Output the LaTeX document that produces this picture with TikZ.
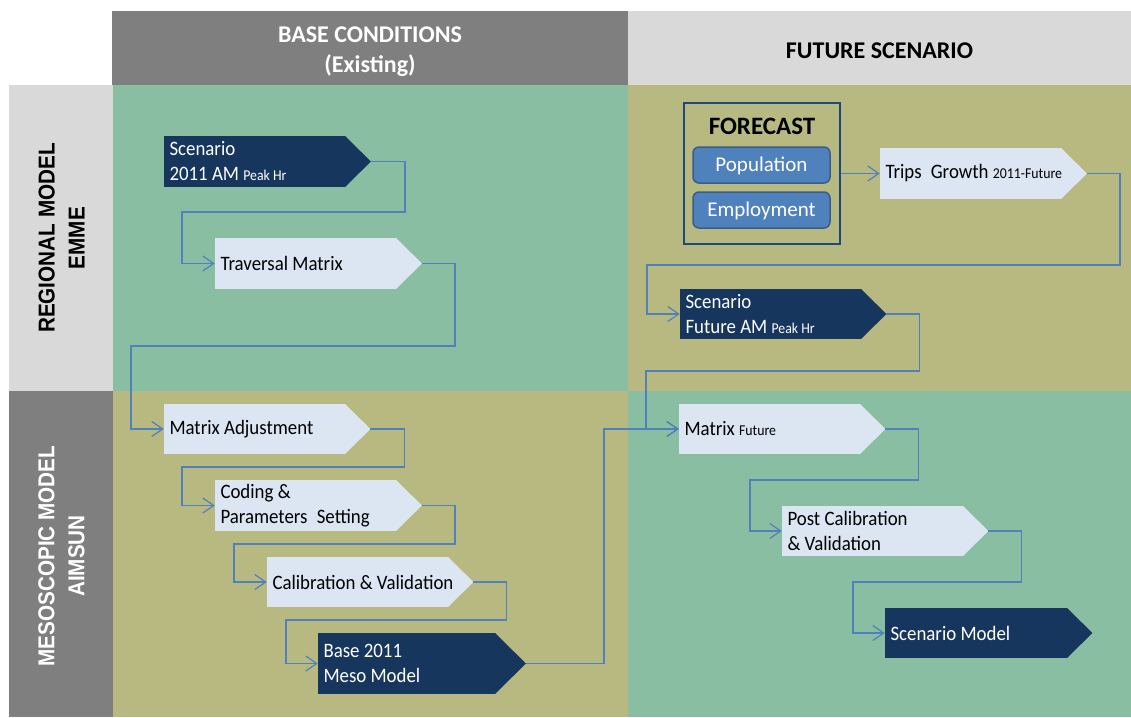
\documentclass[tikz,border=0pt]{standalone}
\usepackage{fontspec}
\setmainfont{Carlito}
\newfontfamily\bandfont{Liberation Sans}[FakeStretch=0.9]
\newfontfamily\stepfont{Carlito}[FakeStretch=0.92]
\usetikzlibrary{arrows.meta,calc}

\pgfdeclarelayer{grid}
\pgfdeclarelayer{tips}
\pgfsetlayers{grid,tips,main}

\definecolor{hdrdark}{HTML}{7F7F7F}
\definecolor{hdrlight}{HTML}{D9D9D9}
\definecolor{cellgreen}{HTML}{89BEA3}
\definecolor{cellolive}{HTML}{B8B980}
\definecolor{navy}{HTML}{17365D}
\definecolor{pale}{HTML}{DCE6F2}
\definecolor{linkblue}{HTML}{4F81BD}
\definecolor{fcborder}{HTML}{1F497D}
\definecolor{pillfill}{HTML}{4F81BD}
\definecolor{pilledge}{HTML}{385D8A}

% small trailing words inside the step boxes
\newcommand\smallpart[1]{{\fontsize{15}{15}\selectfont #1}}
% one unbreakable line of a step box
\newcommand\stepline[1]{\mbox{#1}}

\tikzset{
  cell/.style={rectangle, inner sep=0pt, draw=none},
  hdrtext/.style={font=\bfseries\fontsize{24}{30}\selectfont, align=center},
  bandtext/.style={font=\bandfont\bfseries\fontsize{23}{30}\selectfont, align=center, rotate=90},
  stepbox/.style={rectangle, inner xsep=5.5pt, inner ysep=0pt, minimum height=51pt,
    text width=170pt, align=flush left, font=\stepfont\fontsize{20.5}{25}\selectfont},
  darkstep/.style={stepbox, fill=navy, text=white},
  palestep/.style={stepbox, fill=pale, text=black},
  pill/.style={rectangle, rounded corners=6pt, fill=pillfill, draw=pilledge, line width=1.5pt,
    minimum width=137pt, minimum height=36pt, text height=18pt, text depth=4.5pt,
    text=white, font=\fontsize{21}{21}\selectfont},
  conn/.style={draw=linkblue, line width=1.2pt,
    -{Straight Barb[length=11pt,width=15pt,line width=1.2pt]}}
}

\begin{document}
\begin{tikzpicture}[x=1pt, y=-1pt]
\useasboundingbox (0,0) rectangle (1131,717);

\begin{pgfonlayer}{grid}
\fill[white] (0,0) rectangle (1131,717);
% quadrants
\fill[cellgreen] (113,85) rectangle (628,391);
\fill[cellolive] (628,85) rectangle (1131,391);
\fill[cellolive] (113,391) rectangle (628,717);
\fill[cellgreen] (628,391) rectangle (1131,717);
\end{pgfonlayer}

% column headers
\node[cell, fill=hdrdark, minimum width=516pt, minimum height=74pt] (hbase) at (370,48) {};
\node[cell, fill=hdrlight, minimum width=503pt, minimum height=74pt] (hfut) at (879.5,48) {};
\node[hdrtext, text=white] (hbaset) at (370,52) {BASE CONDITIONS\\(Existing)};
\node[hdrtext, text=black] (hfutt) at (879.5,51) {FUTURE SCENARIO};

% row bands
\node[cell, fill=hdrlight, minimum width=104pt, minimum height=306pt] (bandreg) at (61,238) {};
\node[cell, fill=hdrdark, minimum width=104pt, minimum height=326pt] (bandmeso) at (61,554) {};
\node[bandtext, text=black] (bandregt) at (61.5,238) {REGIONAL MODEL\\EMME};
\node[bandtext, text=white] (bandmesot) at (61.5,556) {MESOSCOPIC MODEL\\AIMSUN};

% base conditions steps
\node[darkstep] (scen) at (254.5,161.5) {\stepline{Scenario}\\\stepline{2011 AM \smallpart{Peak Hr}}};
\node[palestep] (trav) at (305.5,263.5) {\stepline{Traversal Matrix}};
\node[palestep, minimum height=50pt] (madj) at (254.5,429) {\stepline{Matrix Adjustment}};
\node[palestep] (coding) at (305.5,505.5) {\stepline{Coding \&}\\\stepline{Parameters\hspace{0.45em}Setting}};
\node[palestep, minimum height=50pt] (calib) at (357.5,582) {\stepline{Calibration \& Validation}};
\node[darkstep, minimum height=61pt, text width=166pt] (base) at (406.5,663.5) {\stepline{Base 2011}\\\stepline{Meso Model}};

% future scenario steps
\node[draw=fcborder, line width=2pt, minimum width=156pt, minimum height=141pt, inner sep=0pt] (fcast) at (762,173.5) {};
\node[font=\bfseries\fontsize{25}{25}\selectfont] (fctitle) at (762,126) {FORECAST};
\node[pill] (pop) at (761.5,165) {Population};
\node[pill] (emp) at (761.5,210) {Employment};

\node[palestep] (trips) at (970.5,173.5) {\stepline{Trips\hspace{0.45em}Growth \smallpart{2011-Future}}};
\node[darkstep, minimum height=50pt] (scenf) at (770.5,314) {\stepline{Scenario}\\\stepline{Future AM \smallpart{Peak Hr}}};
\node[palestep, minimum height=50pt] (mfut) at (769.5,429) {\stepline{Matrix \smallpart{Future}}};
\node[palestep, minimum height=50pt] (post) at (872.5,531) {\stepline{Post Calibration}\\\stepline{\& Validation}};
\node[darkstep, minimum height=50pt, text width=171pt] (smodel) at (976,633) {\stepline{Scenario Model}};

% pointed ends of the step boxes, kept beneath the box texts
\begin{pgfonlayer}{tips}
\foreach \n/\c in {scen/navy, trav/pale, madj/pale, coding/pale, calib/pale, base/navy,
                   trips/pale, scenf/navy, mfut/pale, post/pale, smodel/navy}{
  \coordinate (\n-tip) at ($(\n.east)!1!-90:(\n.north east)$);
  \fill[\c] ([xshift=-0.4pt]\n.north east) -- (\n-tip) -- ([xshift=-0.4pt]\n.south east) -- cycle;
}
\end{pgfonlayer}

% connectors, base conditions
\draw[conn] (scen-tip) -- ++(34,0) |- (182,212) |- (trav.west);
\draw[conn] (trav-tip) -- ++(33,0) |- (131,346) |- (madj.west);
\draw[conn] (madj-tip) -- ++(34,0) |- (182,467) |- (coding.west);
\draw[conn] (coding-tip) -- ++(33,0) |- (234,544) |- (calib.west);
\draw[conn] (calib-tip) -- ++(33,0) |- (286,620) |- (base.west);
\draw[conn] (base-tip) -- ++(78,0) |- (mfut.west);

% connectors, future scenario
\draw[conn] (fcast.east) -- (trips.west);
\draw[conn] (trips-tip) -- ++(33,0) |- (647,265) |- (scenf.west);
\draw[conn] (scenf-tip) -- ++(33,0) |- (646,371) |- (mfut.west);
\draw[conn] (mfut-tip) -- ++(33,0) |- (750,480) |- (post.west);
\draw[conn] (post-tip) -- ++(33,0) |- (853,582) |- (smodel.west);
\end{tikzpicture}
\end{document}
